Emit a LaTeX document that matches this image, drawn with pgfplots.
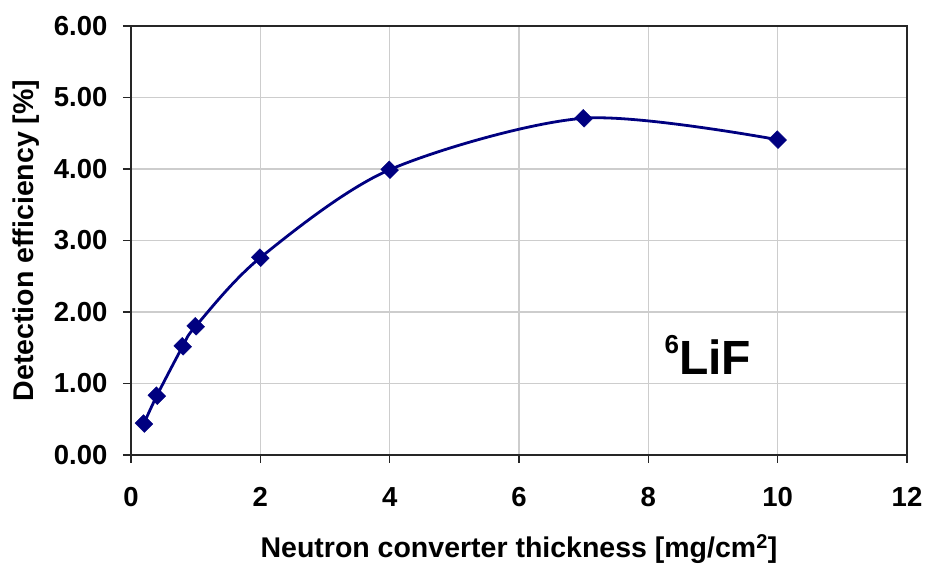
\documentclass[border=0pt]{standalone}
\usepackage{pgfplots}
\pgfplotsset{compat=1.18}
\usepackage{fontspec}
\setmainfont{Liberation Sans}
\definecolor{navyline}{RGB}{0,0,128}
\definecolor{gridgray}{RGB}{205,205,205}
\begin{document}
\begin{tikzpicture}
\begin{axis}[
  scale only axis,
  width=776pt, height=429pt,
  xmin=0, xmax=12, ymin=0, ymax=6,
  xtick={0,2,...,12}, ytick={0,1,...,6},
  grid=major,
  major grid style={draw=gridgray, line width=1.2pt},
  axis line style={line width=1.4pt, draw=black!85},
  tick pos=left, tick align=outside,
  major tick length=8pt,
  tick style={line width=1.2pt, black!85},
  /pgf/number format/assume math mode=true,
  ticklabel style={font=\fontsize{27.5}{30}\selectfont\bfseries},
  yticklabel style={/pgf/number format/fixed, /pgf/number format/fixed zerofill,
    /pgf/number format/precision=2, xshift=-12pt},
  xticklabel style={yshift=-21pt},
  xlabel={Neutron converter thickness [mg/cm\textsuperscript{2}]},
  ylabel={Detection efficiency [\%]},
  label style={font=\fontsize{28.5}{31}\selectfont\bfseries},
  xlabel style={at={([yshift=-103pt]axis description cs:0.5,0)}, anchor=base},
  ylabel style={at={([xshift=-105pt]axis description cs:0,0.5)}, anchor=center},
]
\addplot[navyline, line width=2.8pt, smooth, tension=0.5,
  mark=square*, mark size=6pt,
  mark options={solid, fill=navyline, line width=0.4pt, rotate=45, yscale=1.1}]
  coordinates {
    (0.2,0.44) (0.4,0.83) (0.8,1.52) (1.0,1.80)
    (2.0,2.76) (4.0,3.99) (7.0,4.71) (10.0,4.41)
  };
\node[font=\fontsize{48}{52}\selectfont\bfseries] at (axis cs:8.92,1.40)
  {\raisebox{0.42em}{\fontsize{26}{28}\selectfont 6}LiF};
\end{axis}
\pgfresetboundingbox
\path[use as bounding box] ([shift={(-131pt,-111pt)}]current axis.south west)
  rectangle ([shift={(20pt,26pt)}]current axis.north east);
\end{tikzpicture}
\end{document}
